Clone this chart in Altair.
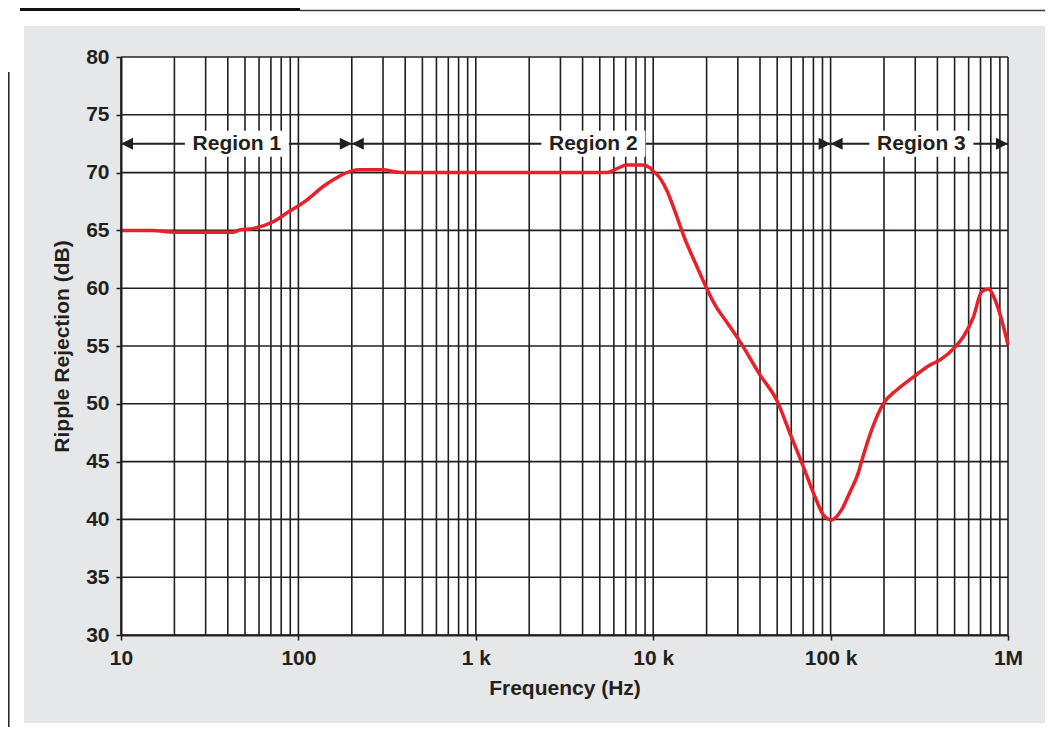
import altair as alt
import pandas as pd

# ---- data ----
freq_hz = [10, 15, 20, 43, 47, 55, 72, 86, 111, 138, 158, 200, 222, 300, 357, 400,
           5500, 6250, 7100, 8700, 9600, 10100, 10400, 11900, 13300, 14800, 17600,
           20000, 22300, 25900, 30800, 40000, 49700, 59000, 70000, 80000, 91000,
           101000, 115000, 128000, 143000, 150000, 170000, 198000, 236000, 292000,
           363000, 414000, 503000, 560000, 638000, 711000, 775000, 845000, 921000,
           1000000]
rejection_db = [65.0, 65.0, 64.85, 64.85, 65.05, 65.15, 65.75, 66.5, 67.6, 68.8, 69.4,
                70.15, 70.25, 70.25, 70.05, 70.0,
                70.0, 70.35, 70.65, 70.65, 70.4, 70.05, 69.9, 68.5, 66.6, 64.6, 61.9,
                60.0, 58.55, 57.1, 55.4, 52.5, 50.3, 47.45, 44.6, 42.3, 40.4,
                39.95, 40.8, 42.3, 44.0, 45.1, 47.7, 50.0, 51.2, 52.3,
                53.35, 53.8, 54.9, 55.8, 57.5, 59.7, 59.9, 59.0, 57.25,
                55.1]

region_names = ["Region 1", "Region 2", "Region 3"]
region_start = [10, 200, 100000]
region_end = [200, 100000, 1000000]
region_label_x = [45, 4600, 325000]
region_y = [72.5, 72.5, 72.5]

x_tick_values = [10, 100, 1000, 10000, 100000, 1000000]
x_tick_labels = ["10", "100", "1 k", "10 k", "100 k", "1M"]
y_tick_values = [30, 35, 40, 45, 50, 55, 60, 65, 70, 75, 80]
grid_x = [m * 10 ** d for d in range(1, 6) for m in range(1, 10)] + [1000000]

# ---- style ----
W, H = 887, 578
INK = "#231f20"
RED = "#e8202a"
GRAY = "#e6e7e8"
FONT = "Liberation Sans"
FS = 21

xscale = alt.Scale(type="log", domain=[10, 1000000], nice=False)
yscale = alt.Scale(domain=[30, 80], nice=False, zero=False)

label_expr = " : ".join(
    f"datum.value == {v} ? '{t}'" for v, t in zip(x_tick_values, x_tick_labels)
) + " : ''"

axis_common = dict(
    labelFont=FONT, labelFontSize=FS, labelFontWeight="bold", labelColor=INK,
    titleFont=FONT, titleFontSize=FS, titleFontWeight="bold", titleColor=INK,
    domainColor=INK, domainWidth=2, tickColor=INK, tickWidth=1.5, tickSize=5,
    labelPadding=7, grid=False, zindex=2,
)
xaxis = alt.Axis(title="Frequency (Hz)", values=x_tick_values, labelExpr=label_expr,
                 titlePadding=9, labelFlush=False, labelOverlap=False, **axis_common)
yaxis = alt.Axis(title="Ripple Rejection (dB)", values=y_tick_values,
                 titlePadding=13, **axis_common)


def X(field):
    return alt.X(field, type="quantitative", scale=xscale, axis=xaxis)


def Y(field):
    return alt.Y(field, type="quantitative", scale=yscale, axis=yaxis)


curve_df = pd.DataFrame({"f": freq_hz, "db": rejection_db})
region_df = pd.DataFrame({"name": region_names, "start": region_start, "end": region_end,
                          "lx": region_label_x, "y": region_y})
gx_df = pd.DataFrame({"f": grid_x})
gy_df = pd.DataFrame({"db": y_tick_values})
one = pd.DataFrame({"a": [0]})

# decorations (page background panel, top tab, side rule)
panel = alt.Chart(one).mark_rect(color=GRAY).encode(
    x=alt.value(-97), x2=alt.value(930), y=alt.value(-31), y2=alt.value(666))
tab = alt.Chart(one).mark_rect(color="#111111").encode(
    x=alt.value(-101), x2=alt.value(179), y=alt.value(-50), y2=alt.value(-46))
top_rule = alt.Chart(one).mark_rule(color="#3c3c3c", strokeWidth=1.5).encode(
    x=alt.value(179), x2=alt.value(930), y=alt.value(-46.5))
side_rule = alt.Chart(one).mark_rule(color=INK, strokeWidth=1.5).encode(
    x=alt.value(-112.2), y=alt.value(15), y2=alt.value(680))
plot_bg = alt.Chart(one).mark_rect(color="white").encode(
    x=alt.value(0), x2=alt.value(W), y=alt.value(0), y2=alt.value(H))

vgrid = alt.Chart(gx_df).mark_rule(color=INK, strokeWidth=1.6).encode(
    x=X("f"), y=alt.value(0), y2=alt.value(H))
hgrid = alt.Chart(gy_df).mark_rule(color=INK, strokeWidth=1.6).encode(
    y=Y("db"), x=alt.value(0), x2=alt.value(W))

arrows = alt.Chart(region_df).mark_rule(color=INK, strokeWidth=2).encode(
    x=X("start"), x2="end:Q", y=Y("y"))
head_left = alt.Chart(region_df).mark_point(
    shape="M0,0L12,-6L12,6Z", size=4, filled=True, color=INK, opacity=1, strokeWidth=0).encode(
    x=X("start"), y=Y("y"))
head_right = alt.Chart(region_df).mark_point(
    shape="M0,0L-12,-6L-12,6Z", size=4, filled=True, color=INK, opacity=1, strokeWidth=0).encode(
    x=X("end"), y=Y("y"))
label_box = alt.Chart(region_df).mark_point(
    shape="M-52,-13H52V13H-52Z", size=4, filled=True, color="white", opacity=1, strokeWidth=0).encode(
    x=X("lx"), y=Y("y"))
labels = alt.Chart(region_df).mark_text(
    font=FONT, fontSize=FS, fontWeight="bold", color=INK, baseline="middle", align="center").encode(
    x=X("lx"), y=Y("y"), text="name:N")

curve = alt.Chart(curve_df).mark_line(
    color=RED, strokeWidth=3.5, interpolate="monotone").encode(x=X("f"), y=Y("db"))

chart = alt.layer(
    panel, tab, top_rule, side_rule, plot_bg, vgrid, hgrid, arrows, label_box,
    head_left, head_right, curve, labels
).properties(
    width=W, height=H,
    autosize=alt.AutoSizeParams(type="none"),
    padding={"left": 113, "top": 49, "right": 37, "bottom": 92},
    background="white",
).configure_view(stroke=None)

chart.save("out.html", embed_options={"renderer": "svg", "actions": False})
